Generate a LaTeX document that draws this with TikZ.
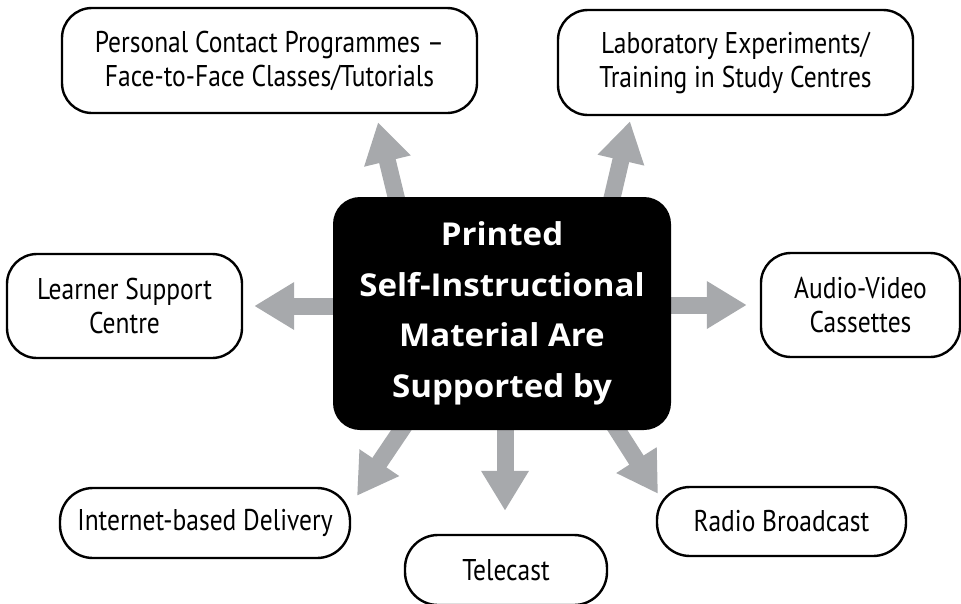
\documentclass[tikz,border=0pt]{standalone}
\usepackage{fontspec}
\setmainfont[FakeStretch=0.85]{PT Sans}
\newfontfamily\centerfont[FakeStretch=1.05]{Open Sans}
\usetikzlibrary{arrows.meta}
\pgfdeclarelayer{bg}
\pgfsetlayers{bg,main}
\definecolor{arrowgray}{HTML}{A7A9AC}
\tikzset{
  x=1pt, y=-1pt,
  sbox/.style={draw=black, line width=2.4pt, rounded corners=30pt, fill=white,
    align=center, inner sep=0pt, font=\fontsize{30}{34}\selectfont},
  pill/.style={sbox, rounded corners=33pt},
  centerbox/.style={fill=black, rounded corners=27pt, align=center, text=white,
    inner sep=0pt, font=\centerfont\bfseries\fontsize{31.5}{50.5}\selectfont},
  bigarrow/.style={draw=arrowgray, line width=17pt,
    -{Triangle[width=45pt,length=40pt]}, arrowgray},
}
\begin{document}
\begin{tikzpicture}
\useasboundingbox (0,0) rectangle (961,603);
\node[centerbox, minimum width=338pt, minimum height=233pt] (c) at (502,313.5)
  {Printed\\Self-Instructional\\Material Are\\Supported by};
\node[sbox, minimum width=415pt, minimum height=105pt] (p) at (269.5,60.5)
  {Personal Contact Programmes --\\Face-to-Face Classes/Tutorials};
\node[sbox, minimum width=355pt, minimum height=105pt] (l) at (735.5,62.5)
  {Laboratory Experiments/\\Training in Study Centres};
\node[sbox, minimum width=235pt, minimum height=104pt] (ls) at (124.5,306)
  {Learner Support\\Centre};
\node[sbox, minimum width=199pt, minimum height=104pt] (av) at (860.5,305)
  {Audio-Video\\Cassettes};
\node[pill, minimum width=249pt, minimum height=69pt] (rb) at (781.5,521.5)
  {Radio Broadcast};
\node[pill, minimum width=202pt, minimum height=70pt] (tc) at (506,570)
  {Telecast};
\node[pill, minimum width=290pt, minimum height=70pt] (ib) at (205,523)
  {Internet-based Delivery};
\begin{pgfonlayer}{bg}
\draw[bigarrow] ([xshift=-103.5pt,yshift=-10pt]c.north) -- ([xshift=108.5pt,yshift=-8pt]p.south);
\draw[bigarrow] ([xshift=108pt,yshift=-10pt]c.north) -- ([xshift=-105.5pt,yshift=-5pt]l.south);
\draw[bigarrow] ([yshift=7.5pt,xshift=10pt]c.west) -- ([xshift=11pt]ls.east);
\draw[bigarrow] ([yshift=8.5pt,xshift=-10pt]c.east) -- ([xshift=-13pt]av.west);
\draw[bigarrow] ([xshift=-94pt,yshift=10pt]c.south) -- ([xshift=152pt,yshift=-9pt]ib.north);
\draw[bigarrow] ([xshift=3pt,yshift=10pt]c.south) -- ([xshift=-1pt,yshift=23pt]tc.north);
\draw[bigarrow] ([xshift=109pt,yshift=10pt]c.south) -- ([xshift=-123.5pt,yshift=-8pt]rb.north);
\end{pgfonlayer}
\end{tikzpicture}
\end{document}
